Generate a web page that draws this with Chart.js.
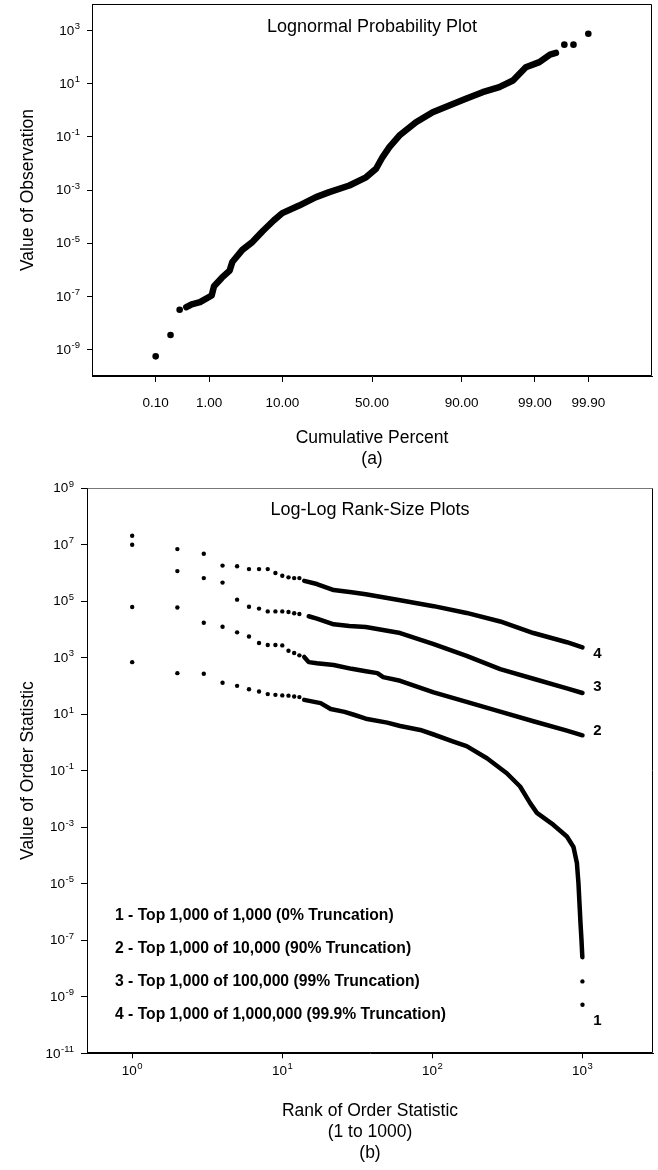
<!DOCTYPE html>
<html lang="en">
<head>
<meta charset="UTF-8">
<script src="https://cdn.jsdelivr.net/npm/chart.js"></script>
<style>
  body { margin: 0; background: #fff; }
  .wrap { position: relative; width: 658px; height: 1170px; }
  canvas { position: absolute; left: 0; }
</style>
</head>
<body>
<div class="wrap">
  <canvas id="probPlot" width="658" height="470" style="top:0"></canvas>
  <canvas id="rankPlot" width="658" height="700" style="top:470px"></canvas>
</div>
<script>
// ---- (a) lognormal probability plot ----
const probTickPct = [0.1, 1, 10, 50, 90, 99, 99.9];
const probTickLabels = ['0.10', '1.00', '10.00', '50.00', '90.00', '99.00', '99.90'];
const obsTicks = [1e3, 1e1, 1e-1, 1e-3, 1e-5, 1e-7, 1e-9];
const obsTickExp = ['3', '1', '-1', '-3', '-5', '-7', '-9'];

// the few observations that stand apart at both tails
const tailPct = [0.1, 0.2, 0.3, 99.7, 99.8, 99.9];
const tailObs = [5.5e-10, 3.5e-9, 3.1e-8, 295, 295, 760];
// everything in between overlaps into one thick band
const bandPct = [0.4, 0.5, 0.7, 1.1, 1.2, 1.6, 2.1, 2.3, 3.2, 4.4, 5.9, 8, 10, 14.9, 17.3, 21.2, 27.1, 37.3,
  46.6, 52.3, 56, 59.8, 65.2, 73.5, 80.7, 86.5, 91, 94.3, 96.55, 97.8, 98.6, 99.16, 99.45, 99.57];
const bandObs = [3.9e-8, 5.0e-8, 6.0e-8, 1.07e-7, 2.4e-7, 5.0e-7, 9.3e-7, 1.95e-6, 5.6e-6, 1.12e-5, 2.8e-5, 7.1e-5,
  1.35e-4, 2.6e-4, 3.5e-4, 5.4e-4, 8.3e-4, 1.48e-3, 3.0e-3, 6.3e-3, 0.0174, 0.041, 0.112, 0.355, 0.85, 1.51, 2.7,
  4.8, 7.4, 13.2, 41.7, 65, 125, 145];

// ---- (b) log-log rank-size plots ----
const rankTicks = [1, 10, 100, 1000];
const rankTickExp = ['0', '1', '2', '3'];
const sizeTicks = [1e9, 1e7, 1e5, 1e3, 1e1, 1e-1, 1e-3, 1e-5, 1e-7, 1e-9, 1e-11];
const sizeTickExp = ['9', '7', '5', '3', '1', '-1', '-3', '-5', '-7', '-9', '-11'];

// ranks 1..13 are still separate dots
const topRanks = [1, 2, 3, 4, 5, 6, 7, 8, 9, 10, 11, 12, 13];
const s1Top = [690, 282, 269, 129, 100, 76, 63, 51, 48, 46, 45, 42, 40];
const s2Top = [6.2e4, 5.9e4, 1.7e4, 1.23e4, 7.8e3, 5.6e3, 3.3e3, 2.8e3, 2.8e3, 2.7e3, 1.74e3, 1.45e3, 1.2e3];
const s3Top = [9.8e6, 1.15e6, 6.5e5, 4.5e5, 1.12e5, 6.3e4, 5.4e4, 4.3e4, 4.3e4, 4.3e4, 4.1e4, 3.7e4, 3.5e4];
const s4Top = [2.04e7, 6.9e6, 4.7e6, 1.8e6, 1.7e6, 1.35e6, 1.35e6, 1.35e6, 9.8e5, 7.9e5, 6.9e5, 6.5e5, 6.5e5];

// past that the dots run together
const s1Ranks = [14, 18, 21, 26, 30, 36, 50, 61, 83, 102, 138, 169, 231, 313, 384, 448, 497, 641, 787, 871, 918,
  940, 955, 970, 985, 998];
const s1Rest = [32, 24.5, 15.1, 12.0, 9.5, 6.9, 5.0, 3.8, 2.75, 1.9, 1.07, 0.74, 0.275, 0.081, 0.0275, 0.0071,
  0.0032, 0.0012, 4.7e-4, 2.0e-4, 5.4e-5, 1.05e-5, 2.0e-6, 4.0e-7, 1.0e-7, 2.5e-8];
const s1EndRanks = [999, 1000];
const s1End = [3.5e-9, 5.2e-10];
const s2Ranks = [14, 15, 17, 22, 29, 36, 43, 47, 61, 102, 169, 283, 471, 787, 1000];
const s2Rest = [1050, 690, 630, 550, 400, 330, 282, 204, 151, 59, 27, 12.3, 5.6, 2.6, 1.78];
const s3Ranks = [15, 17, 22, 28, 36, 61, 102, 169, 283, 471, 787, 1000];
const s3Rest = [2.9e4, 2.4e4, 1.5e4, 1.32e4, 1.2e4, 7.4e3, 3.0e3, 1.15e3, 390, 178, 81, 56];
const s4Ranks = [14, 17, 22, 29, 36, 61, 102, 169, 283, 471, 787, 1000];
const s4Rest = [5.2e5, 4.0e5, 2.45e5, 2.04e5, 1.74e5, 1.07e5, 6.6e4, 3.8e4, 1.9e4, 7.4e3, 3.5e3, 2.3e3];

const legendLines = [
  '1 - Top 1,000 of 1,000 (0% Truncation)',
  '2 - Top 1,000 of 10,000 (90% Truncation)',
  '3 - Top 1,000 of 100,000 (99% Truncation)',
  '4 - Top 1,000 of 1,000,000 (99.9% Truncation)'
];

const FONT = '"Liberation Sans", Arial, sans-serif';
Chart.defaults.font.family = FONT;
Chart.defaults.color = '#000';

// inverse normal cdf (Acklam), used for the probability axis
function probit(p) {
  const a = [-39.69683028665376, 220.9460984245205, -275.9285104469687, 138.3577518672690, -30.66479806614716, 2.506628277459239];
  const b = [-54.47609879822406, 161.5858368580409, -155.6989798598866, 66.80131188771972, -13.28068155288572];
  const c = [-0.007784894002430293, -0.3223964580411365, -2.400758277161838, -2.549732539343734, 4.374664141464968, 2.938163982698783];
  const d = [0.007784695709041462, 0.3224671290700398, 2.445134137142996, 3.754408661907416];
  const lo = 0.02425;
  let q, r;
  if (p < lo) {
    q = Math.sqrt(-2 * Math.log(p));
    return (((((c[0]*q+c[1])*q+c[2])*q+c[3])*q+c[4])*q+c[5]) / ((((d[0]*q+d[1])*q+d[2])*q+d[3])*q+1);
  }
  if (p > 1 - lo) return -probit(1 - p);
  q = p - 0.5; r = q * q;
  return (((((a[0]*r+a[1])*r+a[2])*r+a[3])*r+a[4])*r+a[5])*q / (((((b[0]*r+b[1])*r+b[2])*r+b[3])*r+b[4])*r+1);
}

function pts(xs, ys, fx) {
  return xs.map((x, i) => ({ x: fx ? fx(x) : x, y: ys[i] }));
}
const pctToZ = p => probit(p / 100);

// "10" with a raised exponent; anchor is the right edge ('right') or the centre ('center')
function drawPow(ctx, exp, x, y, anchor) {
  ctx.font = '13.5px ' + FONT;
  const bw = ctx.measureText('10').width;
  ctx.font = '9.5px ' + FONT;
  const ew = ctx.measureText(exp).width;
  const left = anchor === 'right' ? x - bw - ew - 0.5 : x - (bw + ew + 0.5) / 2;
  ctx.textAlign = 'left';
  ctx.textBaseline = 'middle';
  ctx.font = '13.5px ' + FONT;
  ctx.fillText('10', left, y + 0.5);
  ctx.font = '9.5px ' + FONT;
  ctx.fillText(exp, left + bw + 0.5, y - 4);
}

function powTicks(axisId, values, exps, gap) {
  return {
    id: 'pow_' + axisId,
    afterDraw(chart) {
      const sc = chart.scales[axisId];
      const ctx = chart.ctx;
      ctx.save();
      ctx.fillStyle = '#000';
      values.forEach((v, i) => {
        const p = sc.getPixelForValue(v);
        if (sc.isHorizontal()) drawPow(ctx, exps[i], p, sc.top + gap, 'center');
        else drawPow(ctx, exps[i], sc.right - gap, p, 'right');
      });
      ctx.restore();
    }
  };
}

const frame = {
  id: 'frame',
  afterDraw(chart, args, opts) {
    const { ctx, chartArea: a } = chart;
    const l = Math.round(a.left) + 0.5, t = Math.round(a.top) + 0.5;
    const r = Math.round(a.right) - 0.5, b = Math.round(a.bottom) - 0.5;
    ctx.save();
    ctx.lineWidth = 1;
    ctx.strokeStyle = opts.top || '#000';
    ctx.beginPath(); ctx.moveTo(l, t); ctx.lineTo(r, t); ctx.stroke();
    ctx.strokeStyle = '#000';
    ctx.beginPath(); ctx.moveTo(r, t); ctx.lineTo(r, b); ctx.lineTo(l, b); ctx.lineTo(l, t); ctx.stroke();
    ctx.restore();
  }
};

function axisCommon(tickLen) {
  return {
    grid: { drawOnChartArea: false, drawTicks: true, tickLength: tickLen, color: '#000' },
    border: { color: '#000', width: 1 }
  };
}

// ---------- chart (a) ----------
new Chart(document.getElementById('probPlot'), {
  type: 'scatter',
  data: {
    datasets: [
      { data: pts(bandPct, bandObs, pctToZ), showLine: true, borderColor: '#000', borderWidth: 6.5,
        borderJoinStyle: 'round', borderCapStyle: 'round', pointRadius: 0 },
      { data: pts(tailPct, tailObs, pctToZ), backgroundColor: '#000', borderWidth: 0, pointRadius: 3.3 }
    ]
  },
  options: {
    responsive: false, animation: false, devicePixelRatio: 1,
    layout: { padding: { top: 4, right: 6, left: 0, bottom: 0 } },
    plugins: { legend: { display: false }, tooltip: { enabled: false }, frame: {} },
    scales: {
      x: {
        type: 'linear', min: -4, max: 4, bounds: 'data',
        afterBuildTicks: ax => { ax.ticks = probTickPct.map(p => ({ value: pctToZ(p) })); },
        afterFit: ax => { ax.height = 94; ax.paddingLeft = 0; ax.paddingRight = 0; },
        ticks: { callback: (v, i) => probTickLabels[i], autoSkip: false, maxRotation: 0, padding: 13, font: { size: 13.5 } },
        ...axisCommon(6),
        title: { display: true, text: ['Cumulative Percent', '(a)'], font: { size: 17.5, lineHeight: 1.2 }, padding: { top: 0, bottom: 0 } }
      },
      y: {
        type: 'logarithmic', min: 1e-10, max: 1e4, bounds: 'data',
        afterBuildTicks: ax => { ax.ticks = obsTicks.map(v => ({ value: v })); },
        afterFit: ax => { ax.width = 92; ax.paddingTop = 0; ax.paddingBottom = 0; },
        ticks: { display: false },
        ...axisCommon(5),
        title: { display: true, text: 'Value of Observation', font: { size: 17.5, lineHeight: 1.2 }, padding: { top: 18, bottom: 0 } }
      }
    }
  },
  plugins: [frame, powTicks('y', obsTicks, obsTickExp, 12), {
    id: 'probTitle',
    afterDraw(chart) {
      const { ctx, chartArea: a } = chart;
      ctx.save();
      ctx.fillStyle = '#000';
      ctx.font = '18px ' + FONT;
      ctx.textAlign = 'center';
      ctx.textBaseline = 'middle';
      ctx.fillText('Lognormal Probability Plot', (a.left + a.right) / 2, a.top + 23);
      ctx.restore();
    }
  }]
});

// ---------- chart (b) ----------
const dot = { backgroundColor: '#000', borderWidth: 0, pointRadius: 2.2 };
const band = { showLine: true, borderColor: '#000', borderWidth: 4.5, borderJoinStyle: 'round', borderCapStyle: 'round', pointRadius: 0 };

const seriesEnds = [s1End[s1End.length - 1], s2Rest[s2Rest.length - 1], s3Rest[s3Rest.length - 1], s4Rest[s4Rest.length - 1]];
const tagShift = [16, -4, -6, 6];

new Chart(document.getElementById('rankPlot'), {
  type: 'scatter',
  data: {
    datasets: [
      { data: pts(topRanks, s1Top), ...dot },
      { data: pts(topRanks, s2Top), ...dot },
      { data: pts(topRanks, s3Top), ...dot },
      { data: pts(topRanks, s4Top), ...dot },
      { data: pts(s1Ranks, s1Rest), ...band },
      { data: pts(s1EndRanks, s1End), ...dot },
      { data: pts(s2Ranks, s2Rest), ...band },
      { data: pts(s3Ranks, s3Rest), ...band },
      { data: pts(s4Ranks, s4Rest), ...band }
    ]
  },
  options: {
    responsive: false, animation: false, devicePixelRatio: 1,
    layout: { padding: { top: 18, right: 5, left: 0, bottom: 0 } },
    plugins: { legend: { display: false }, tooltip: { enabled: false }, frame: { top: '#777' } },
    scales: {
      x: {
        type: 'logarithmic', min: 0.5, max: 2950, bounds: 'data',
        afterBuildTicks: ax => { ax.ticks = rankTicks.map(v => ({ value: v })); },
        afterFit: ax => { ax.height = 116.7; ax.paddingLeft = 0; ax.paddingRight = 0; },
        ticks: { display: false },
        ...axisCommon(5),
        title: { display: true, text: ['Rank of Order Statistic', '(1 to 1000)', '(b)'], font: { size: 17.5, lineHeight: 1.2 }, padding: { top: 0, bottom: 6 } }
      },
      y: {
        type: 'logarithmic', min: 1e-11, max: 1e9, bounds: 'data',
        afterBuildTicks: ax => { ax.ticks = sizeTicks.map(v => ({ value: v })); },
        afterFit: ax => { ax.width = 87; ax.paddingTop = 0; ax.paddingBottom = 0; },
        ticks: { display: false },
        ...axisCommon(6),
        title: { display: true, text: 'Value of Order Statistic', font: { size: 17.5, lineHeight: 1.2 }, padding: { top: 18, bottom: 0 } }
      }
    }
  },
  plugins: [frame, powTicks('x', rankTicks, rankTickExp, 17), powTicks('y', sizeTicks, sizeTickExp, 13), {
    id: 'rankText',
    afterDraw(chart) {
      const { ctx, chartArea: a, scales: { x, y } } = chart;
      ctx.save();
      ctx.fillStyle = '#000';
      ctx.textBaseline = 'middle';
      ctx.textAlign = 'center';
      ctx.font = '18px ' + FONT;
      ctx.fillText('Log-Log Rank-Size Plots', (a.left + a.right) / 2, a.top + 22);
      ctx.textAlign = 'left';
      ctx.font = 'bold 15.7px ' + FONT;
      legendLines.forEach((t, i) => ctx.fillText(t, a.left + 28, a.bottom - 138 + i * 33));
      ctx.textAlign = 'center';
      ctx.font = 'bold 15px ' + FONT;
      const tx = x.getPixelForValue(1000) + 15;
      seriesEnds.forEach((v, i) => ctx.fillText(String(i + 1), tx, y.getPixelForValue(v) + tagShift[i]));
      ctx.restore();
    }
  }]
});
</script>
</body>
</html>
